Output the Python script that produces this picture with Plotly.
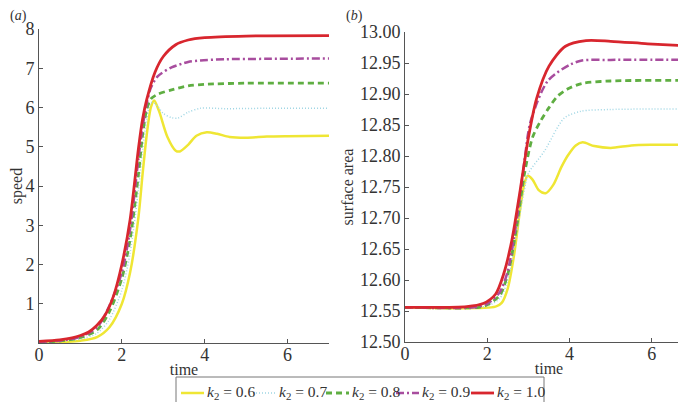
import plotly.graph_objects as go

# ---------------- data ----------------
k2_labels = ["0.6", "0.7", "0.8", "0.9", "1.0"]

# (a) speed vs time
t_y06 = [0, 0.5, 1.0, 1.4, 1.7, 2.0, 2.2, 2.4, 2.5, 2.6, 2.7, 2.78, 2.9, 3.1, 3.3, 3.4, 3.6, 3.8, 4.05, 4.3, 4.6, 5.0, 5.5, 6.0, 7.0]
v_y06 = [0.01, 0.02, 0.06, 0.15, 0.4, 1.0, 1.8, 3.2, 4.3, 5.3, 6.0, 6.18, 5.9, 5.25, 4.9, 4.88, 5.05, 5.28, 5.37, 5.33, 5.25, 5.23, 5.26, 5.27, 5.28]

t_c07 = [0, 0.5, 1.0, 1.4, 1.7, 2.0, 2.2, 2.4, 2.5, 2.6, 2.7, 2.8, 3.0, 3.2, 3.35, 3.6, 3.9, 4.5, 5.5, 7.0]
v_c07 = [0.02, 0.04, 0.1, 0.25, 0.6, 1.35, 2.3, 3.9, 4.9, 5.7, 6.12, 6.1, 5.85, 5.74, 5.73, 5.88, 5.98, 5.97, 5.98, 5.98]

t_g08 = [0, 0.5, 1.0, 1.4, 1.7, 2.0, 2.2, 2.4, 2.5, 2.6, 2.7, 2.87, 3.2, 3.6, 4.0, 5.0, 7.0]
v_g08 = [0.02, 0.05, 0.14, 0.33, 0.8, 1.65, 2.65, 4.3, 5.3, 5.95, 6.22, 6.34, 6.45, 6.55, 6.59, 6.62, 6.62]

t_p09 = [0, 0.5, 1.0, 1.4, 1.7, 2.0, 2.2, 2.4, 2.5, 2.6, 2.7, 2.87, 3.2, 3.6, 3.9, 4.5, 5.5, 7.0]
v_p09 = [0.03, 0.06, 0.16, 0.4, 0.95, 1.8, 2.9, 4.7, 5.5, 6.1, 6.5, 6.8, 7.02, 7.16, 7.2, 7.23, 7.24, 7.25]

t_r10 = [0, 0.5, 0.8, 1.0, 1.2, 1.4, 1.6, 1.8, 2.0, 2.2, 2.4, 2.5, 2.6, 2.8, 3.0, 3.3, 3.6, 4.0, 5.0, 7.0]
v_r10 = [0.04, 0.08, 0.13, 0.19, 0.28, 0.45, 0.72, 1.2, 2.0, 3.15, 4.95, 5.7, 6.2, 6.9, 7.3, 7.6, 7.72, 7.78, 7.82, 7.83]

# (b) surface area vs time
ts_y06 = [0, 2.2, 2.35, 2.5, 2.65, 2.8, 2.9, 2.98, 3.1, 3.25, 3.42, 3.6, 3.8, 3.95, 4.15, 4.32, 4.6, 5.0, 5.5, 6.0, 7.0]
s_y06 = [12.556, 12.557, 12.563, 12.587, 12.64, 12.715, 12.755, 12.768, 12.762, 12.745, 12.74, 12.753, 12.782, 12.8, 12.817, 12.822, 12.816, 12.813, 12.817, 12.818, 12.818]

ts_c07 = [0, 1.8, 2.0, 2.3, 2.5, 2.7, 2.9, 3.0, 3.39, 3.87, 4.27, 5.0, 7.0]
s_c07 = [12.556, 12.556, 12.558, 12.57, 12.6, 12.67, 12.745, 12.772, 12.808, 12.861, 12.872, 12.875, 12.876]

ts_g08 = [0, 1.8, 2.0, 2.3, 2.5, 2.7, 2.9, 3.1, 3.3, 3.5, 3.7, 3.95, 4.3, 5.0, 7.0]
s_g08 = [12.556, 12.556, 12.56, 12.575, 12.61, 12.68, 12.77, 12.83, 12.857, 12.878, 12.896, 12.908, 12.917, 12.921, 12.922]

ts_p09 = [0, 1.7, 2.0, 2.3, 2.5, 2.7, 2.9, 3.05, 3.47, 4.0, 4.3, 5.0, 7.0]
s_p09 = [12.556, 12.556, 12.562, 12.58, 12.615, 12.69, 12.79, 12.855, 12.921, 12.947, 12.954, 12.955, 12.955]

ts_r10 = [0, 1.5, 1.9, 2.2, 2.4, 2.6, 2.8, 3.0, 3.2, 3.5, 3.9, 4.4, 5.0, 5.9, 7.0]
s_r10 = [12.556, 12.557, 12.562, 12.577, 12.61, 12.665, 12.745, 12.83, 12.893, 12.945, 12.977, 12.986, 12.985, 12.981, 12.977]

speed_ticks = [1, 2, 3, 4, 5, 6, 7, 8]
area_ticks = [12.50, 12.55, 12.60, 12.65, 12.70, 12.75, 12.80, 12.85, 12.90, 12.95, 13.00]
time_ticks = [0, 2, 4, 6]

# ---------------- styles ----------------
colors = ["#efe634", "#9fd6e4", "#5fae42", "#a84d9e", "#d8262e"]
dashes = ["solid", "1px,2px", "6px,4px", "8px,3px,2px,3px", "solid"]
widths = [2.5, 1.5, 2.8, 2.5, 2.8]
FONT = "Liberation Serif, Times New Roman, serif"
TXT = "#333"
W, H = 686, 402

speed_series = [(t_y06, v_y06), (t_c07, v_c07), (t_g08, v_g08), (t_p09, v_p09), (t_r10, v_r10)]
area_series = [(ts_y06, s_y06), (ts_c07, s_c07), (ts_g08, s_g08), (ts_p09, s_p09), (ts_r10, s_r10)]
names = ["<i>k</i><sub>2</sub> = " + k for k in k2_labels]

fig = go.Figure()
for i, (t, v) in enumerate(speed_series):
    fig.add_trace(go.Scatter(
        x=t, y=v, mode="lines", xaxis="x", yaxis="y",
        line=dict(color=colors[i], dash=dashes[i], width=widths[i], shape="spline", smoothing=0.8),
        name=names[i], showlegend=False))
for i, (t, s) in enumerate(area_series):
    fig.add_trace(go.Scatter(
        x=t, y=s, mode="lines", xaxis="x2", yaxis="y2",
        line=dict(color=colors[i], dash=dashes[i], width=widths[i], shape="spline", smoothing=0.8),
        name=names[i], showlegend=False))

axis_common = dict(showline=True, linecolor="#555", linewidth=1, ticks="inside", ticklen=4,
                   tickcolor="#555", showgrid=False, zeroline=False,
                   tickfont=dict(family=FONT, size=18, color=TXT))
title_font = dict(family=FONT, size=16, color=TXT)

# ---- manual legend (box, line samples, labels) ----
def px(x):
    return x / W

def py(y):
    return 1 - y / H

shapes = [dict(type="rect", xref="paper", yref="paper", x0=px(168), x1=px(536),
               y0=py(401), y1=py(369), line=dict(color="#777", width=1), fillcolor="white")]
annotations = []
sym_x = [173, 245, 318, 388, 463]
for i in range(5):
    shapes.append(dict(type="line", xref="paper", yref="paper",
                       x0=px(sym_x[i]), x1=px(sym_x[i] + 23), y0=py(385), y1=py(385),
                       line=dict(color=colors[i], dash=dashes[i], width=widths[i])))
    annotations.append(dict(text=names[i], xref="paper", yref="paper",
                            x=px(sym_x[i] + 24), y=py(384), xanchor="left", yanchor="middle",
                            showarrow=False, font=dict(family=FONT, size=15.5, color=TXT)))

annotations += [
    dict(text="(<i>a</i>)", x=px(1), y=py(8), xref="paper", yref="paper",
         xanchor="left", yanchor="middle", showarrow=False, borderpad=0,
         font=dict(family=FONT, size=14, color=TXT)),
    dict(text="(<i>b</i>)", x=px(337), y=py(8), xref="paper", yref="paper",
         xanchor="left", yanchor="middle", showarrow=False, borderpad=0,
         font=dict(family=FONT, size=14, color=TXT)),
]

fig.update_layout(
    width=W, height=H,
    margin=dict(l=0, r=0, t=0, b=0, autoexpand=False),
    paper_bgcolor="white", plot_bgcolor="white",
    font=dict(family=FONT, color=TXT),
    showlegend=False,
    xaxis=dict(domain=[px(31), px(321)], range=[0, 7], tickvals=time_ticks,
               ticklabelstandoff=-5,
               title=dict(text="time", font=title_font, standoff=0),
               anchor="y", **axis_common),
    yaxis=dict(domain=[67 / H, 381 / H], range=[0, 8], tickvals=speed_ticks,
               ticklabelstandoff=0,
               title=dict(text="speed", font=title_font, standoff=4),
               anchor="x", **axis_common),
    xaxis2=dict(domain=[px(397), px(685)], range=[0, 7], tickvals=time_ticks,
                ticklabelstandoff=-5,
                title=dict(text="time", font=title_font, standoff=0),
                anchor="y2", **axis_common),
    yaxis2=dict(domain=[68 / H, 378 / H], range=[12.5, 13.0], tickvals=area_ticks,
                tickformat=".2f", ticklabelstandoff=0,
                title=dict(text="surface area", font=title_font, standoff=2),
                anchor="x2", **axis_common),
    shapes=shapes,
    annotations=annotations,
)

fig.write_html("out.html")
